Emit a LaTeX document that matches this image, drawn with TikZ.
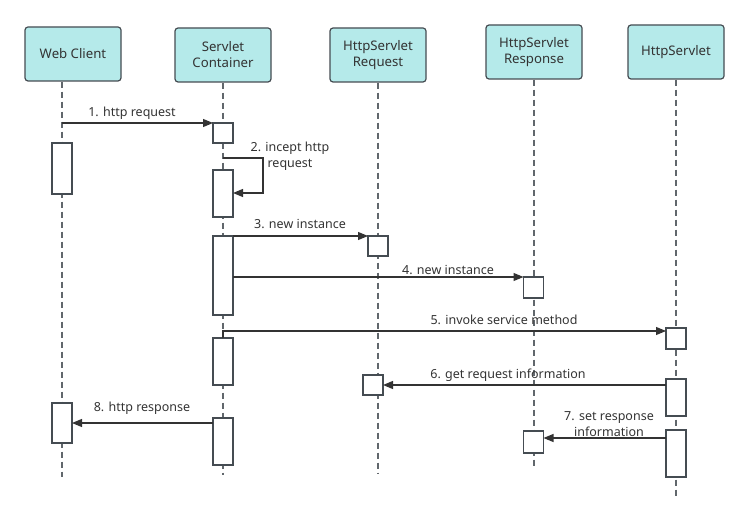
\documentclass[tikz,border=0pt]{standalone}
\usepackage{fontspec}
\setmainfont{Noto Sans}
\usetikzlibrary{arrows.meta,calc}
\definecolor{hdrfill}{HTML}{B5EAEA}
\definecolor{edge}{HTML}{454C52}
\definecolor{ink}{HTML}{333333}
\begin{document}
\begin{tikzpicture}[x=1pt,y=-1pt,
 hdr/.style={draw=edge, fill=hdrfill, rounded corners=3pt, line width=1.2pt, minimum width=96pt, minimum height=54pt, inner sep=0pt, align=center, font=\fontsize{13.2}{16}\selectfont, text=ink},
 life/.style={draw=edge!85, line width=1.3pt, dash pattern=on 6pt off 4pt},
 act/.style={draw=edge, fill=white, line width=1.2pt, minimum width=20pt, inner sep=0pt, outer sep=0pt, anchor=north},
 msg/.style={draw=ink, line width=1.1pt, -{Triangle[length=10pt,width=8pt]}},
 lbl/.style={font=\fontsize{12.5}{16}\selectfont, text=ink, align=center, inner sep=0pt}
]
\useasboundingbox (0,0) rectangle (749,521);

% headers
\node[hdr] (hWC) at (73,54) {Web Client};
\node[hdr] (hSC) at (223,55) {Servlet\\Container};
\node[hdr] (hReq) at (378,55) {HttpServlet\\Request};
\node[hdr] (hResp) at (534,52) {HttpServlet\\Response};
\node[hdr] (hHS) at (676,52) {HttpServlet};

% lifelines
\coordinate (wcEnd) at (62,477);
\coordinate (scEnd) at (223,475);
\coordinate (rqEnd) at (378,473);
\coordinate (rsEnd) at (534,469);
\coordinate (hsEnd) at (676,496);
\draw[life] (hWC.south -| wcEnd) -- (wcEnd);
\draw[life] (hSC.south -| scEnd) -- (scEnd);
\draw[life] (hReq.south -| rqEnd) -- (rqEnd);
\draw[life] (hResp.south -| rsEnd) -- (rsEnd);
\draw[life] (hHS.south -| hsEnd) -- (hsEnd);

% activation boxes
\node[act, minimum height=51pt] (wc1) at (62,143) {};
\node[act, minimum height=40pt] (wc2) at (62,403) {};
\node[act, minimum height=20pt] (sc1) at (223,123) {};
\node[act, minimum height=47pt] (sc2) at (223,170) {};
\node[act, minimum height=79pt] (sc3) at (223,236) {};
\node[act, minimum height=47pt] (sc4) at (223,338) {};
\node[act, minimum height=47pt] (sc5) at (223,418) {};
\node[act, minimum height=20pt] (rq1) at (378,236) {};
\node[act, minimum height=20pt] (rq2) at (373,375) {};
\node[act, minimum height=21pt] (rs1) at (533.5,277) {};
\node[act, minimum height=22pt] (rs2) at (533.5,431) {};
\node[act, minimum height=21pt] (hs1) at (676,328) {};
\node[act, minimum height=37pt] (hs2) at (676,379) {};
\node[act, minimum height=47pt] (hs3) at (676,430) {};

% messages
\draw[msg] (sc1.north west -| wcEnd) -- (sc1.north west);
\node[lbl] (l1) at (132,113) {1. http request};

\coordinate (selfA) at (223,158);
\coordinate (selfB) at (263,193);
\draw[msg] (selfA) -| (selfB) -- (selfB -| sc2.east);
\node[lbl] (l2) at (290,156.5) {2. incept http\\request};

\draw[msg] (sc3.north east) -- (rq1.north west);
\node[lbl] (l3) at (300,223.5) {3. new instance};

\draw[msg] (sc3.east |- rs1.north) -- (rs1.north west);
\node[lbl] (l4) at (448,269.5) {4. new instance};

\coordinate (m5) at ($(hs1.north west)+(0,3)$);
\draw[msg] (sc4.north) -- (sc4.north |- m5) -- (m5);
\node[lbl] (l5) at (504,319.5) {5. invoke service method};

\draw[msg] (hs2.west |- rq2.east) -- (rq2.east);
\node[lbl] (l6) at (508,375.5) {6. get request information};

\coordinate (m7) at ($(rs2.east)+(0,-4)$);
\draw[msg] (hs3.west |- m7) -- (m7);
\node[lbl] (l7) at (609,424.5) {7. set response\\information};

\draw[msg] (sc5.west |- wc2.east) -- (wc2.east);
\node[lbl] (l8) at (142,408.5) {8. http response};
\end{tikzpicture}
\end{document}
